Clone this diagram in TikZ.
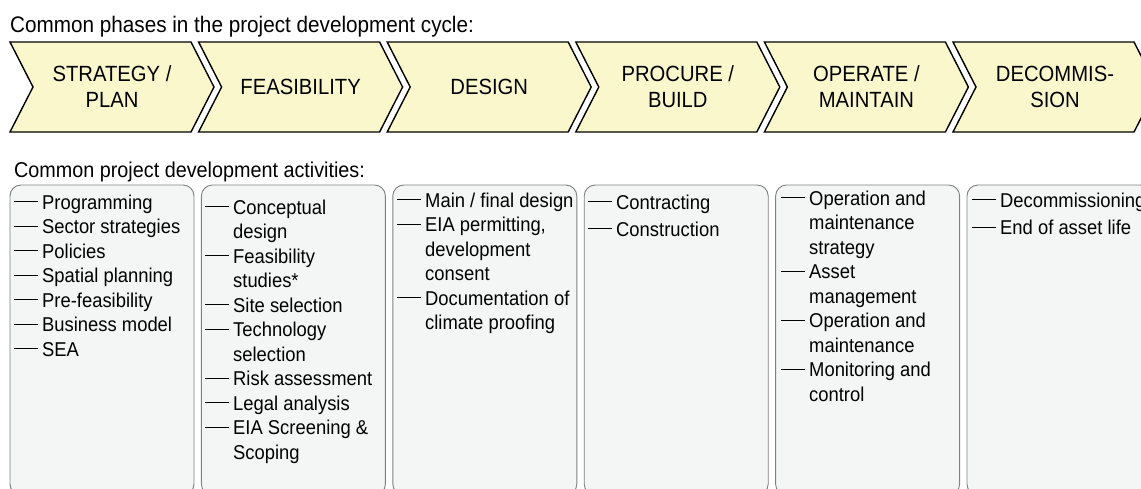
\documentclass[tikz,border=0pt]{standalone}
\usepackage{fontspec}
\setmainfont[FakeStretch=0.92]{Liberation Sans}
\usetikzlibrary{positioning}
\definecolor{chevfill}{HTML}{FBF7CD}
\definecolor{boxfill}{HTML}{F4F5F5}
\definecolor{boxline}{HTML}{7F7F7F}
\newcommand{\dashmark}{\rule[7pt]{24pt}{1pt}}

\begin{document}
\begin{tikzpicture}[x=1pt,y=-1pt,
    phase/.style={draw=black, line width=1.4pt, fill=chevfill, line join=miter},
    phasetext/.style={align=center, inner sep=0pt, font=\fontsize{22}{26}\selectfont},
    actbox/.style={draw=boxline, line width=0.9pt, fill=boxfill, rounded corners=11pt},
    acttext/.style={anchor=base west, inner sep=0pt, font=\fontsize{20}{24.5}\selectfont}]
    \clip (0,0) rectangle (1141,488);
    \useasboundingbox (0,0) rectangle (1141,488);

    \node[anchor=base west, inner sep=0pt, font=\fontsize{22.5}{27}\selectfont] (phasetitle) at (10,32) {Common phases in the project development cycle:};

    \foreach \i/\txt in {0/{STRATEGY /\\PLAN}, 1/FEASIBILITY, 2/DESIGN, 3/{PROCURE /\\BUILD}, 4/{OPERATE /\\MAINTAIN}, 5/{DECOMMIS-\\SION}} {
        \pgfmathsetmacro{\xl}{10+188.6*\i}
        \draw[phase] (\xl,42) -- ++(181,0) -- ++(23,45) -- ++(-23,45) -- ++(-181,0) -- ++(23,-45) -- cycle;
        \node[phasetext] (phase\i) at (\xl+102,87) {\txt};
    }

    \node[anchor=base west, inner sep=0pt, font=\fontsize{21.5}{26}\selectfont] (acttitle) at (14,177) {Common project development activities:};

    \foreach \i in {0,...,5} {
        \pgfmathsetmacro{\xl}{10+191.4*\i}
        \draw[actbox] (\xl,185) rectangle ++(184,310);
    }

    \node[acttext] (act0) at (14,209) {\begin{tabular}[t]{@{}l@{\hspace{4pt}}l@{}}
        \dashmark & Programming\\
        \dashmark & Sector strategies\\
        \dashmark & Policies\\
        \dashmark & Spatial planning\\
        \dashmark & Pre-feasibility\\
        \dashmark & Business model\\
        \dashmark & SEA
    \end{tabular}};

    \node[acttext] (act1) at (205,214) {\begin{tabular}[t]{@{}l@{\hspace{4pt}}l@{}}
        \dashmark & Conceptual\\
                  & design\\
        \dashmark & Feasibility\\
                  & studies*\\
        \dashmark & Site selection\\
        \dashmark & Technology\\
                  & selection\\
        \dashmark & Risk assessment\\
        \dashmark & Legal analysis\\
        \dashmark & EIA Screening \&\\
                  & Scoping
    \end{tabular}};

    \node[acttext] (act2) at (397,207) {\begin{tabular}[t]{@{}l@{\hspace{4pt}}l@{}}
        \dashmark & Main / final design\\
        \dashmark & EIA permitting,\\
                  & development\\
                  & consent\\
        \dashmark & Documentation of\\
                  & climate proofing
    \end{tabular}};

    \node[acttext] (act3) at (588,209) {\renewcommand{\arraystretch}{1.12}\begin{tabular}[t]{@{}l@{\hspace{4pt}}l@{}}
        \dashmark & Contracting\\
        \dashmark & Construction
    \end{tabular}};

    \node[acttext] (act4) at (781,205) {\begin{tabular}[t]{@{}l@{\hspace{4pt}}l@{}}
        \dashmark & Operation and\\
                  & maintenance\\
                  & strategy\\
        \dashmark & Asset\\
                  & management\\
        \dashmark & Operation and\\
                  & maintenance\\
        \dashmark & Monitoring and\\
                  & control
    \end{tabular}};

    \node[acttext] (act5) at (972,207) {\renewcommand{\arraystretch}{1.14}\begin{tabular}[t]{@{}l@{\hspace{4pt}}l@{}}
        \dashmark & Decommissioning\\
        \dashmark & End of asset life
    \end{tabular}};

%    \draw[red] (0,0) grid[step=50] (1141,488);
\end{tikzpicture}
\end{document}
